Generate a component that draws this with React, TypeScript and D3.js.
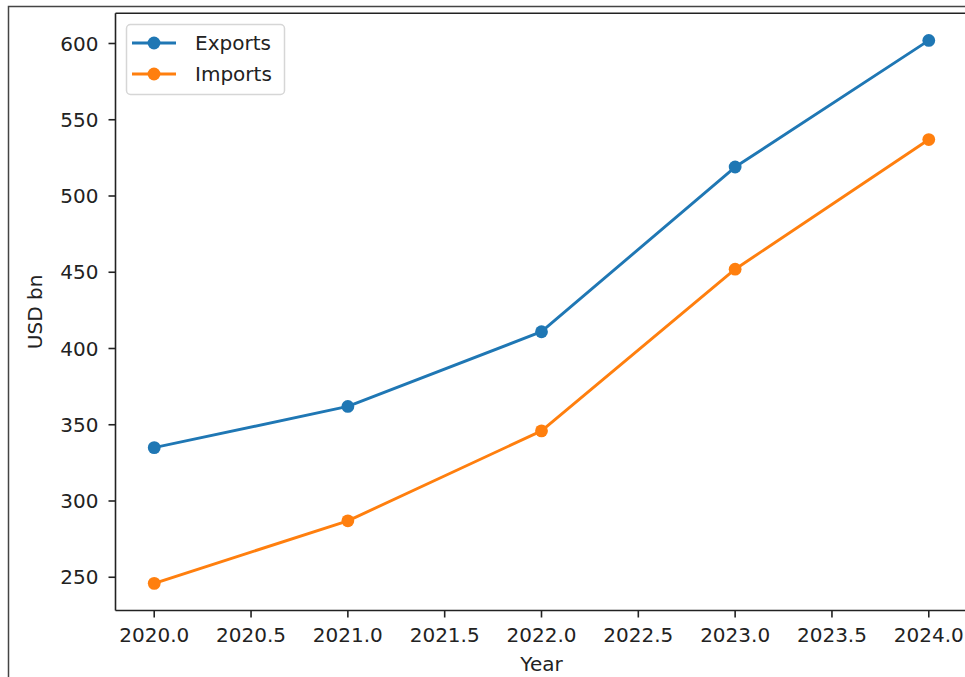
import React, { useEffect, useRef } from "react";
import * as d3 from "d3";

const years = [2020, 2021, 2022, 2023, 2024];
const exportsBn = [335, 362, 411, 519, 602];
const importsBn = [246, 287, 346, 452, 537];
const xTicks = [2020.0, 2020.5, 2021.0, 2021.5, 2022.0, 2022.5, 2023.0, 2023.5, 2024.0];
const yTicks = [250, 300, 350, 400, 450, 500, 550, 600];
const seriesNames = ["Exports", "Imports"];
const seriesColors = ["#1f77b4", "#ff7f0e"];

const W = 965;
const H = 677;
const FONT = "'DejaVu Sans', sans-serif";
const FS = 20;

export default function App() {
  const ref = useRef<SVGSVGElement>(null);

  useEffect(() => {
    const svg = d3.select(ref.current);
    svg.selectAll("*").remove();

    const left = 115.5;
    const top = 13.3;
    const bottom = 610.5;

    const allVals = exportsBn.concat(importsBn);
    const yMin = d3.min(allVals)!;
    const yMax = d3.max(allVals)!;
    const yPad = (yMax - yMin) * 0.05;
    const xPad = (d3.max(years)! - d3.min(years)!) * 0.05;

    const x = d3
      .scaleLinear()
      .domain([d3.min(years)! - xPad, d3.max(years)! + xPad])
      .range([left, 967.5]);
    const y = d3
      .scaleLinear()
      .domain([yMin - yPad, yMax + yPad])
      .range([bottom, top]);

    svg.append("rect").attr("width", W).attr("height", H).attr("fill", "#fff");

    // outer frame
    svg
      .append("path")
      .attr("d", `M8.5,${H + 2} V6.5 H${W + 2}`)
      .attr("fill", "none")
      .attr("stroke", "#444")
      .attr("stroke-width", 1.5);

    const g = svg.append("g");

    // series lines and markers
    const data = [exportsBn, importsBn];
    data.forEach((vals, i) => {
      const pts = years.map((yr, j) => [yr, vals[j]] as [number, number]);
      const line = d3
        .line<[number, number]>()
        .x((d) => x(d[0]))
        .y((d) => y(d[1]));
      g.append("path")
        .attr("d", line(pts))
        .attr("fill", "none")
        .attr("stroke", seriesColors[i])
        .attr("stroke-width", 2.9)
        .attr("stroke-linejoin", "round")
        .attr("stroke-linecap", "square");
      g.selectAll(null)
        .data(pts)
        .enter()
        .append("circle")
        .attr("cx", (d) => x(d[0]))
        .attr("cy", (d) => y(d[1]))
        .attr("r", 6.4)
        .attr("fill", seriesColors[i]);
    });

    // spines
    const spine = "#222";
    g.append("line")
      .attr("x1", left).attr("x2", left)
      .attr("y1", top).attr("y2", bottom)
      .attr("stroke", spine).attr("stroke-width", 1.6);
    g.append("line")
      .attr("x1", left).attr("x2", W + 2)
      .attr("y1", bottom).attr("y2", bottom)
      .attr("stroke", spine).attr("stroke-width", 1.6);
    g.append("line")
      .attr("x1", left).attr("x2", W + 2)
      .attr("y1", top).attr("y2", top)
      .attr("stroke", spine).attr("stroke-width", 1.6);

    // x ticks
    xTicks.forEach((t) => {
      const px = x(t);
      g.append("line")
        .attr("x1", px).attr("x2", px)
        .attr("y1", bottom).attr("y2", bottom + 7)
        .attr("stroke", spine).attr("stroke-width", 1.6);
      g.append("text")
        .attr("x", px)
        .attr("y", bottom + 31)
        .attr("text-anchor", "middle")
        .attr("font-family", FONT)
        .attr("font-size", FS)
        .attr("fill", "#222")
        .text(t.toFixed(1));
    });

    // y ticks
    yTicks.forEach((t) => {
      const py = y(t);
      g.append("line")
        .attr("x1", left - 7).attr("x2", left)
        .attr("y1", py).attr("y2", py)
        .attr("stroke", spine).attr("stroke-width", 1.6);
      g.append("text")
        .attr("x", left - 17)
        .attr("y", py)
        .attr("dy", "0.36em")
        .attr("text-anchor", "end")
        .attr("font-family", FONT)
        .attr("font-size", FS)
        .attr("fill", "#222")
        .text(String(t));
    });

    // axis labels
    g.append("text")
      .attr("x", x(2022))
      .attr("y", 671)
      .attr("text-anchor", "middle")
      .attr("font-family", FONT)
      .attr("font-size", FS)
      .attr("fill", "#222")
      .text("Year");
    g.append("text")
      .attr("transform", `translate(42,${(top + bottom) / 2}) rotate(-90)`)
      .attr("text-anchor", "middle")
      .attr("font-family", FONT)
      .attr("font-size", FS)
      .attr("fill", "#222")
      .text("USD bn");

    // legend
    const lg = g.append("g");
    lg.append("rect")
      .attr("x", 126.5).attr("y", 24.5)
      .attr("width", 158).attr("height", 70)
      .attr("rx", 4)
      .attr("fill", "#fff").attr("fill-opacity", 0.8)
      .attr("stroke", "#d6d6d6").attr("stroke-width", 1.5);
    seriesNames.forEach((name, i) => {
      const ly = 43 + i * 31;
      lg.append("line")
        .attr("x1", 132).attr("x2", 176)
        .attr("y1", ly).attr("y2", ly)
        .attr("stroke", seriesColors[i]).attr("stroke-width", 2.9);
      lg.append("circle")
        .attr("cx", 154).attr("cy", ly).attr("r", 6.4)
        .attr("fill", seriesColors[i]);
      lg.append("text")
        .attr("x", 195).attr("y", ly).attr("dy", "0.36em")
        .attr("font-family", FONT)
        .attr("font-size", FS)
        .attr("fill", "#222")
        .text(name);
    });
  }, []);

  return (
    <svg
      ref={ref}
      width={W}
      height={H}
      style={{ position: "absolute", left: 0, top: 0, display: "block" }}
    />
  );
}
